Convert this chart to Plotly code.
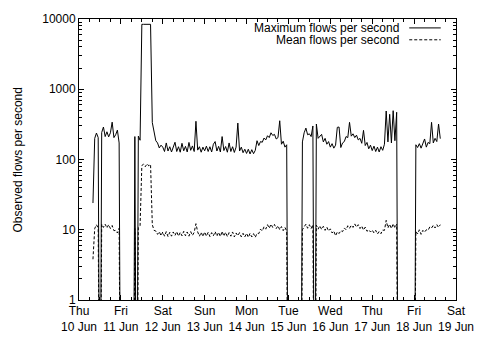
import pandas as pd
import plotly.graph_objects as go

N = None
# Hourly readings (index = hour of day), starting Thu 10 Jun 2010 00:00.
# None = no record; 0 = zero reading (drawn down to the axis floor)
MAX_THU10 = [N, N, N, N, N, N, N, N, 24, 200, 238, 205, 0, 242, 290, 212, 248, 210, 240, 340, 205, 225, 262, 172]
MAX_FRI11 = [0, N, N, N, N, N, N, 0, 212, 0, 215, 188, 8400, 8400, 8400, 8400, 8400, 8400, 335, 250, 185, 172, 146, 160]
MAX_SAT12 = [150, 130, 172, 132, 152, 128, 155, 176, 130, 152, 127, 170, 133, 154, 128, 175, 135, 156, 130, 350, 136, 152, 127, 150]
MAX_SUN13 = [133, 155, 130, 152, 128, 165, 180, 132, 154, 128, 212, 134, 153, 127, 172, 130, 152, 126, 150, 330, 132, 150, 125, 140]
MAX_MON14 = [122, 140, 120, 138, 121, 135, 185, 158, 180, 176, 202, 190, 218, 205, 240, 220, 228, 196, 205, 356, 165, 182, 150, 162]
MAX_TUE15 = [0, N, N, N, N, N, N, 0, 178, 240, 280, 225, 232, 212, 300, 0, 320, 200, 215, 228, 178, 200, 165, 180]
MAX_WED16 = [150, 168, 145, 160, 287, 290, 148, 172, 180, 212, 205, 338, 215, 232, 205, 222, 190, 200, 170, 260, 158, 175, 142, 160]
MAX_THU17 = [134, 155, 130, 150, 128, 152, 135, 165, 490, 178, 440, 172, 495, 185, 470, 0, N, N, N, N, N, N, N, N]
MAX_FRI18 = [0, 162, 148, 168, 145, 165, 196, 150, 175, 168, 338, 172, 200, 180, 320, 198, N, N, N, N, N, N, N, N]

MEAN_THU10 = [N, N, N, N, N, N, N, N, 3.8, 10.4, 11.8, 10.6, 0, 12.0, 10.8, 12.0, 10.6, 11.8, 10.4, 11.5, 9.7, 9.8, 9.0, 10.5]
MEAN_FRI11 = [0, N, N, N, N, N, N, 0, 10.4, 0, 10.8, 11.4, 82, 86, 79, 87, 81, 85, 11.8, 9.8, 9.6, 8.6, 9.4, 8.2]
MEAN_SAT12 = [9.3, 8.1, 9.4, 8.0, 9.2, 8.1, 9.3, 8.3, 9.4, 8.1, 9.2, 8.2, 9.5, 8.2, 9.3, 8.1, 9.4, 8.3, 9.2, 12.2, 9.3, 8.1, 9.2, 8.0]
MEAN_SUN13 = [9.3, 8.1, 9.2, 8.0, 9.1, 8.2, 9.4, 8.1, 9.2, 8.0, 9.5, 8.1, 9.2, 8.0, 9.1, 8.1, 9.3, 7.9, 9.0, 8.2, 9.1, 7.9, 8.9, 7.9]
MEAN_MON14 = [8.9, 7.8, 8.9, 7.9, 8.8, 7.8, 8.9, 8.8, 10.2, 9.6, 11.0, 10.2, 11.8, 10.5, 12.0, 10.8, 11.9, 10.4, 11.4, 10.0, 11.1, 9.7, 10.8, 9.6]
MEAN_TUE15 = [0, N, N, N, N, N, N, 0, 10.0, 11.0, 12.0, 10.5, 11.8, 10.4, 11.8, 0, 11.6, 10.2, 11.4, 10.1, 11.2, 9.8, 10.9, 9.6]
MEAN_WED16 = [10.3, 9.0, 9.6, 8.2, 9.3, 8.8, 9.7, 9.4, 10.6, 10.0, 11.4, 10.5, 11.6, 10.8, 12.1, 10.9, 11.8, 10.4, 11.3, 9.9, 10.9, 9.5, 10.0, 9.3]
MEAN_THU17 = [9.9, 9.0, 9.8, 8.7, 9.5, 8.8, 9.9, 9.8, 13.6, 10.6, 12.0, 10.4, 12.2, 10.6, 12.0, 0, N, N, N, N, N, N, N, N]
MEAN_FRI18 = [0, 9.5, 8.7, 10.0, 8.6, 9.8, 9.2, 10.0, 9.8, 11.0, 10.6, 11.6, 10.6, 11.8, 10.8, 11.8, N, N, N, N, N, N, N, N]

START = "2010-06-10 00:00"
END = "2010-06-19 00:00"
Y_TICKS = [1, 10, 100, 1000, 10000]
Y_TICK_TEXT = ["1", "10", "100", "1000", "10000"]
SERIES_NAMES = ["Maximum flows per second", "Mean flows per second"]

max_vals = MAX_THU10 + MAX_FRI11 + MAX_SAT12 + MAX_SUN13 + MAX_MON14 + MAX_TUE15 + MAX_WED16 + MAX_THU17 + MAX_FRI18
mean_vals = MEAN_THU10 + MEAN_FRI11 + MEAN_SAT12 + MEAN_SUN13 + MEAN_MON14 + MEAN_TUE15 + MEAN_WED16 + MEAN_THU17 + MEAN_FRI18
times = pd.date_range(START, periods=len(max_vals), freq="h")

FLOOR = 1e-3  # zero readings drawn below the log axis (clipped at the frame)


def disp(vals):
    return [None if v is None else (v if v > 0 else FLOOR) for v in vals]


FONT = "Liberation Sans, Arial, sans-serif"
fig = go.Figure()
fig.add_trace(go.Scatter(x=times, y=disp(max_vals), mode="lines", name=SERIES_NAMES[0],
                         line=dict(color="#000000", width=1), connectgaps=False))
fig.add_trace(go.Scatter(x=times, y=disp(mean_vals), mode="lines", name=SERIES_NAMES[1],
                         line=dict(color="#000000", width=1, dash="3px,2px"), connectgaps=False))

days = pd.date_range(START, END, freq="D")
day_text = [d.strftime("%a") + "<br>" + str(d.day) + " " + d.strftime("%b") for d in days]

minor_y = [m * 10 ** e for e in range(0, 4) for m in range(2, 10)]

fig.update_layout(
    width=486, height=348,
    margin=dict(l=79, r=24, t=16, b=48),
    paper_bgcolor="white", plot_bgcolor="white",
    showlegend=False,
    font=dict(family=FONT, size=12, color="#000000"),
    xaxis=dict(type="date", range=[START, END], tickmode="array",
               tickvals=list(days), ticktext=day_text,
               ticks="inside", ticklen=5, tickcolor="#000", showline=True, linecolor="#000",
               linewidth=1, mirror="ticks", showgrid=False, zeroline=False,
               minor=dict(dtick=6 * 3600 * 1000, tick0=START, ticks="inside", ticklen=3,
                          tickcolor="#000", showgrid=False),
               tickfont=dict(family=FONT, size=12)),
    yaxis=dict(type="log", range=[0, 4], tickmode="array", tickvals=Y_TICKS, ticktext=Y_TICK_TEXT,
               ticks="inside", ticklen=5, tickcolor="#000", showline=True, linecolor="#000",
               linewidth=1, mirror="ticks", showgrid=False, zeroline=False,
               minor=dict(tickmode="array", tickvals=minor_y, ticks="inside", ticklen=3,
                          tickcolor="#000", showgrid=False),
               tickfont=dict(family=FONT, size=12)),
)

# y-axis title (rotated)
fig.add_annotation(text="Observed flows per second", xref="paper", yref="paper",
                   x=(17 - 79) / 383, y=0.5, textangle=-90, showarrow=False,
                   font=dict(family=FONT, size=12), xanchor="center", yanchor="middle")

# gnuplot-style key: right-aligned text with line sample on its right
key_rows = [(0.9683, None), (0.926, "3px,2px")]
for name, (ky, dash) in zip(SERIES_NAMES, key_rows):
    fig.add_annotation(text=name, xref="paper", yref="paper", x=(406.5 - 79) / 383, y=ky,
                       xanchor="right", yanchor="middle", showarrow=False,
                       font=dict(family=FONT, size=12))
    fig.add_shape(type="line", xref="paper", yref="paper",
                  x0=(414.5 - 79) / 383, x1=(446.5 - 79) / 383, y0=ky, y1=ky,
                  line=dict(color="#000", width=1, dash=dash if dash else "solid"))

fig.write_html("out.html")
